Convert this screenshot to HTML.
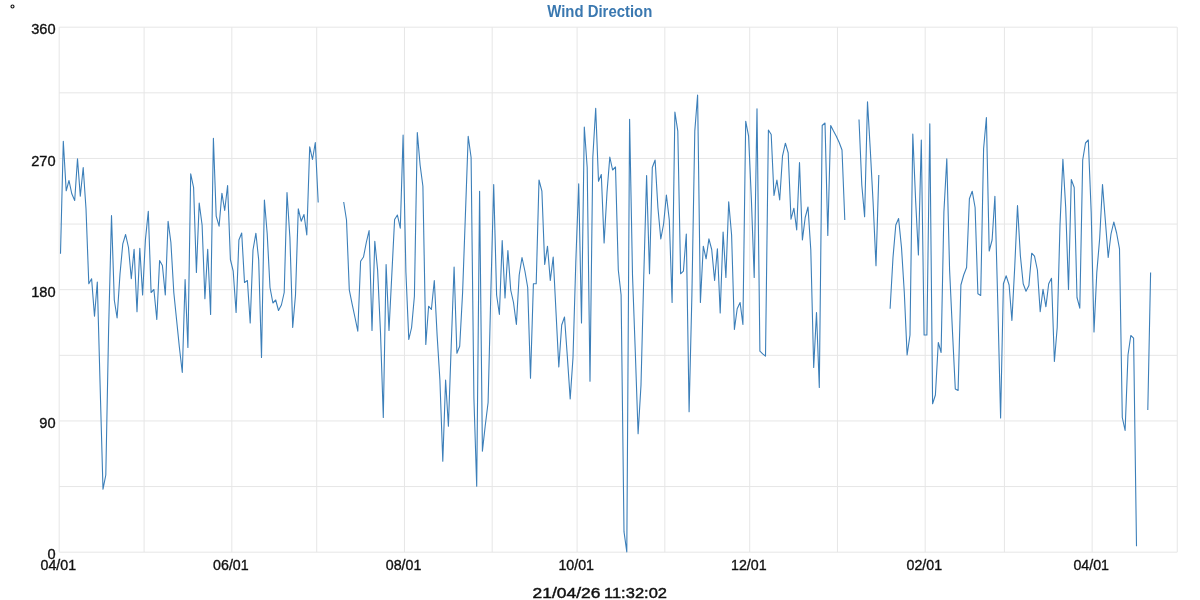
<!DOCTYPE html>
<html><head><meta charset="utf-8"><title>Wind Direction</title>
<style>
html,body{margin:0;padding:0;background:#fff;}
body{width:1200px;height:600px;overflow:hidden;font-family:"Liberation Sans",sans-serif;}
svg{display:block;}
svg text{font-family:"Liberation Sans",sans-serif;}
</style></head><body>
<svg width="1200" height="600" viewBox="0 0 1200 600">
<rect width="1200" height="600" fill="#fff"/>
<g stroke="#e6e6e6" stroke-width="1" fill="none"><line x1="59.20" y1="27.2" x2="59.20" y2="552.2"/><line x1="144.10" y1="27.2" x2="144.10" y2="552.2"/><line x1="231.83" y1="27.2" x2="231.83" y2="552.2"/><line x1="316.73" y1="27.2" x2="316.73" y2="552.2"/><line x1="404.46" y1="27.2" x2="404.46" y2="552.2"/><line x1="492.19" y1="27.2" x2="492.19" y2="552.2"/><line x1="577.09" y1="27.2" x2="577.09" y2="552.2"/><line x1="664.82" y1="27.2" x2="664.82" y2="552.2"/><line x1="749.72" y1="27.2" x2="749.72" y2="552.2"/><line x1="837.45" y1="27.2" x2="837.45" y2="552.2"/><line x1="925.18" y1="27.2" x2="925.18" y2="552.2"/><line x1="1004.42" y1="27.2" x2="1004.42" y2="552.2"/><line x1="1092.15" y1="27.2" x2="1092.15" y2="552.2"/><line x1="1177.25" y1="27.2" x2="1177.25" y2="552.2"/><line x1="59.2" y1="27.20" x2="1177.2" y2="27.20"/><line x1="59.2" y1="92.83" x2="1177.2" y2="92.83"/><line x1="59.2" y1="158.45" x2="1177.2" y2="158.45"/><line x1="59.2" y1="224.07" x2="1177.2" y2="224.07"/><line x1="59.2" y1="289.70" x2="1177.2" y2="289.70"/><line x1="59.2" y1="355.32" x2="1177.2" y2="355.32"/><line x1="59.2" y1="420.95" x2="1177.2" y2="420.95"/><line x1="59.2" y1="486.57" x2="1177.2" y2="486.57"/><line x1="59.2" y1="552.20" x2="1177.2" y2="552.20"/></g>
<defs><filter id="idf" x="0" y="0" width="1200" height="600" filterUnits="userSpaceOnUse" color-interpolation-filters="sRGB"><feOffset dx="0" dy="0"/></filter></defs>
<g filter="url(#idf)">
<g font-size="14.6" fill="#111" stroke="#111" stroke-width="0.35"><text x="55.6" y="34.3" text-anchor="end">360</text><text x="55.6" y="165.5" text-anchor="end">270</text><text x="55.6" y="296.8" text-anchor="end">180</text><text x="55.6" y="428.1" text-anchor="end">90</text><text x="55.6" y="559.3" text-anchor="end">0</text><text x="58.3" y="570.2" text-anchor="middle" textLength="35.6" lengthAdjust="spacingAndGlyphs">04/01</text><text x="230.9" y="570.2" text-anchor="middle" textLength="35.6" lengthAdjust="spacingAndGlyphs">06/01</text><text x="403.6" y="570.2" text-anchor="middle" textLength="35.6" lengthAdjust="spacingAndGlyphs">08/01</text><text x="576.2" y="570.2" text-anchor="middle" textLength="35.6" lengthAdjust="spacingAndGlyphs">10/01</text><text x="748.8" y="570.2" text-anchor="middle" textLength="35.6" lengthAdjust="spacingAndGlyphs">12/01</text><text x="924.3" y="570.2" text-anchor="middle" textLength="35.6" lengthAdjust="spacingAndGlyphs">02/01</text><text x="1091.2" y="570.2" text-anchor="middle" textLength="35.6" lengthAdjust="spacingAndGlyphs">04/01</text></g>
<text x="599.8" y="17" text-anchor="middle" font-size="15.8" font-weight="bold" fill="#3a78b0" textLength="105" lengthAdjust="spacingAndGlyphs">Wind Direction</text>
<g font-size="15.3" fill="#111" stroke="#111" stroke-width="0.45"><text x="532.6" y="597.9" textLength="67.8" lengthAdjust="spacingAndGlyphs">21/04/26</text><text x="604" y="597.9" textLength="63" lengthAdjust="spacingAndGlyphs">11:32:02</text></g>
<circle cx="12.5" cy="6.5" r="1.5" fill="none" stroke="#111" stroke-width="1.15"/>
</g>
<path d="M60.5 253.8 L63.3 141.2 L66.2 190.8 L69.0 180.5 L71.8 193.8 L74.7 200.5 L77.5 158.8 L80.3 196.2 L83.2 167.5 L86.0 208.8 L88.8 283.8 L91.6 278.8 L94.5 316.2 L97.3 282.0 L100.1 385.0 L103.0 489.2 L105.8 475.0 L108.6 330.0 L111.5 215.5 L114.3 300.0 L117.1 318.0 L120.0 274.0 L122.8 243.8 L125.6 234.5 L128.5 247.5 L131.3 278.8 L134.1 249.2 L137.0 311.8 L139.8 248.2 L142.6 295.0 L145.4 240.0 L148.3 211.2 L151.1 292.5 L153.9 289.5 L156.8 319.5 L159.6 260.5 L162.4 265.5 L165.3 295.0 L168.1 221.2 L170.9 242.5 L173.8 292.5 L176.6 320.0 L179.4 347.5 L182.3 372.5 L185.1 279.5 L187.9 347.5 L190.7 173.8 L193.6 187.5 L196.4 272.5 L199.2 203.0 L202.1 225.0 L204.9 298.8 L207.7 249.2 L210.6 314.5 L213.4 138.2 L216.2 216.2 L219.1 226.2 L221.9 193.2 L224.7 210.5 L227.6 185.5 L230.4 259.5 L233.2 271.2 L236.1 312.5 L238.9 240.0 L241.7 233.0 L244.5 282.5 L247.4 280.5 L250.2 323.0 L253.0 250.0 L255.9 233.2 L258.7 260.0 L261.5 357.5 L264.4 200.0 L267.2 233.8 L270.0 287.5 L272.9 303.0 L275.7 300.0 L278.5 310.5 L281.4 305.0 L284.2 292.5 L287.0 192.5 L289.9 237.5 L292.7 327.5 L295.5 295.0 L298.3 208.8 L301.2 221.2 L304.0 214.5 L306.8 235.0 L309.7 146.8 L312.5 159.5 L315.3 142.5 L318.2 202.5 M343.7 202.0 L346.5 220.0 L349.3 290.0 L352.1 303.8 L355.0 317.5 L357.8 331.2 L360.6 261.2 L363.5 257.0 L366.3 242.5 L369.1 230.5 L372.0 330.5 L374.8 241.2 L377.6 270.0 L380.5 332.5 L383.3 417.5 L386.1 264.5 L389.0 330.5 L391.8 275.0 L394.6 219.5 L397.4 215.0 L400.3 228.2 L403.1 135.0 L405.9 272.0 L408.8 339.5 L411.6 327.5 L414.4 296.2 L417.3 132.5 L420.1 165.0 L422.9 186.2 L425.8 344.5 L428.6 306.2 L431.4 309.5 L434.3 280.5 L437.1 335.0 L439.9 380.0 L442.8 461.2 L445.6 380.0 L448.4 426.2 L451.2 346.0 L454.1 267.0 L456.9 353.2 L459.7 346.2 L462.6 292.5 L465.4 215.0 L468.2 136.2 L471.1 157.5 L473.9 398.0 L476.7 486.2 L479.6 191.2 L482.4 451.2 L485.2 426.0 L488.1 402.5 L490.9 290.0 L493.7 184.5 L496.6 295.0 L499.4 314.5 L502.2 240.5 L505.0 298.0 L507.9 250.5 L510.7 290.0 L513.5 302.5 L516.4 324.5 L519.2 275.0 L522.0 257.5 L524.9 271.0 L527.7 287.5 L530.5 378.2 L533.4 283.8 L536.2 283.8 L539.0 180.0 L541.9 191.2 L544.7 264.5 L547.5 246.2 L550.3 280.5 L553.2 257.0 L556.0 312.0 L558.8 367.0 L561.7 325.0 L564.5 317.0 L567.3 356.0 L570.2 399.0 L573.0 357.5 L575.8 262.0 L578.7 183.8 L581.5 323.0 L584.3 127.0 L587.2 167.5 L590.0 381.2 L592.8 157.5 L595.7 108.2 L598.5 181.2 L601.3 174.5 L604.1 243.0 L607.0 192.5 L609.8 157.0 L612.6 170.0 L615.5 167.0 L618.3 270.0 L621.1 295.0 L624.0 531.7 L626.8 552.0 L629.6 119.2 L632.5 275.0 L635.3 352.0 L638.1 433.8 L641.0 385.0 L643.8 275.0 L646.6 175.5 L649.5 273.8 L652.3 167.5 L655.1 160.0 L657.9 207.5 L660.8 239.0 L663.6 224.0 L666.4 195.0 L669.3 220.0 L672.1 302.5 L674.9 112.0 L677.8 131.2 L680.6 273.8 L683.4 271.2 L686.3 234.0 L689.1 411.8 L691.9 295.0 L694.8 131.0 L697.6 95.0 L700.4 302.5 L703.3 246.2 L706.1 258.8 L708.9 238.8 L711.7 249.5 L714.6 280.5 L717.4 248.8 L720.2 313.0 L723.1 232.0 L725.9 277.5 L728.7 201.8 L731.6 235.0 L734.4 329.5 L737.2 308.8 L740.1 302.5 L742.9 324.5 L745.7 121.2 L748.6 136.2 L751.4 200.0 L754.2 277.5 L757.0 108.8 L759.9 351.2 L762.7 353.8 L765.5 356.2 L768.4 130.0 L771.2 134.5 L774.0 195.5 L776.9 180.0 L779.7 200.0 L782.5 156.2 L785.4 143.2 L788.2 153.0 L791.0 219.2 L793.9 208.2 L796.7 230.0 L799.5 162.5 L802.4 240.0 L805.2 217.5 L808.0 207.0 L810.8 250.0 L813.7 367.5 L816.5 312.5 L819.3 387.5 L822.2 125.5 L825.0 123.0 L827.8 235.5 L830.7 125.5 L833.5 131.0 L836.3 136.2 L839.2 142.5 L842.0 150.0 L844.8 220.0 M859.0 119.5 L861.8 185.0 L864.6 216.8 L867.5 101.8 L870.3 150.0 L873.1 202.5 L876.0 265.8 L878.8 175.0 M890.1 308.8 L893.0 257.5 L895.8 225.0 L898.6 218.5 L901.5 247.5 L904.3 292.5 L907.1 355.0 L910.0 335.0 L912.8 134.0 L915.6 200.0 L918.4 255.0 L921.3 140.0 L924.1 335.0 L926.9 335.0 L929.8 123.8 L932.6 403.8 L935.4 395.0 L938.3 342.5 L941.1 352.5 L943.9 212.0 L946.8 158.8 L949.6 270.0 L952.4 330.0 L955.3 389.0 L958.1 390.5 L960.9 285.0 L963.7 275.0 L966.6 267.5 L969.4 198.8 L972.2 191.2 L975.1 207.5 L977.9 293.8 L980.7 295.5 L983.6 148.8 L986.4 117.5 L989.2 251.0 L992.1 240.0 L994.9 196.2 L997.7 300.0 L1000.6 418.0 L1003.4 283.8 L1006.2 275.8 L1009.1 285.0 L1011.9 320.5 L1014.7 267.5 L1017.5 205.5 L1020.4 256.0 L1023.2 283.8 L1026.0 291.2 L1028.9 285.5 L1031.7 253.2 L1034.5 256.2 L1037.4 270.0 L1040.2 311.8 L1043.0 289.2 L1045.9 306.8 L1048.7 283.8 L1051.5 278.2 L1054.4 361.5 L1057.2 327.5 L1060.0 225.0 L1062.9 159.2 L1065.7 207.5 L1068.5 289.5 L1071.3 179.5 L1074.2 187.5 L1077.0 297.5 L1079.8 308.2 L1082.7 160.0 L1085.5 143.0 L1088.3 140.0 L1091.2 212.5 L1094.0 332.0 L1096.8 272.5 L1099.7 238.0 L1102.5 184.5 L1105.3 220.0 L1108.2 257.5 L1111.0 234.0 L1113.8 222.0 L1116.6 233.0 L1119.5 248.8 L1122.3 417.5 L1125.1 430.5 L1128.0 355.0 L1130.8 335.5 L1133.6 338.2 L1136.5 546.2 M1147.8 410.0 L1150.6 272.5" fill="none" stroke="#3c7fb9" stroke-width="1.1" stroke-linejoin="round"/>
</svg>
</body></html>
